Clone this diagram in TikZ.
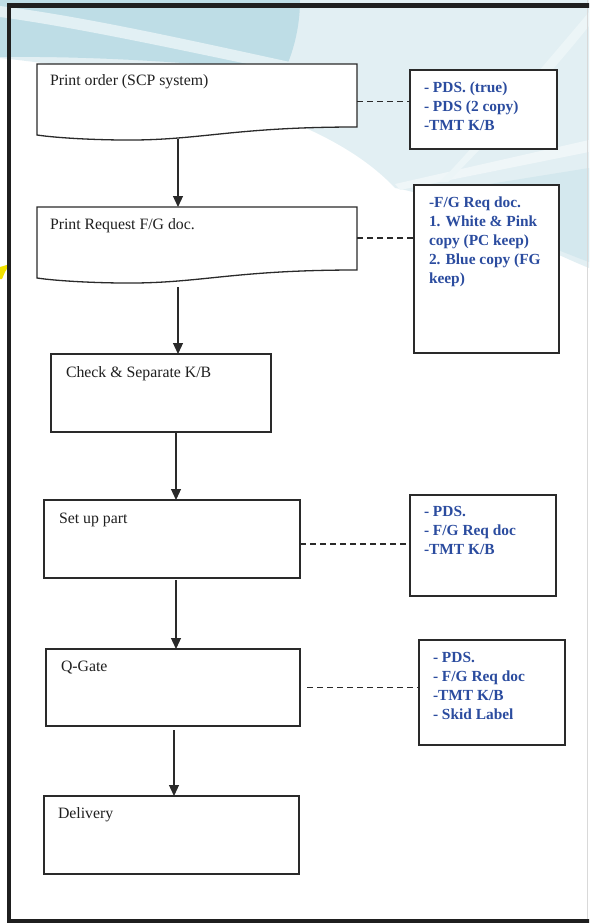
\documentclass[tikz,border=0pt]{standalone}
\usepackage{fontspec}
\setmainfont{Liberation Serif}
\usetikzlibrary{arrows.meta,calc}
\definecolor{tealtop}{HTML}{BEDDE6}
\definecolor{palewash}{HTML}{E2EFF3}
\definecolor{paleband}{HTML}{D4E8EE}
\definecolor{noteblue}{HTML}{2B4C9F}
\definecolor{linegray}{HTML}{2A2A2A}
\definecolor{marker}{HTML}{F2E200}

\begin{document}
\begin{tikzpicture}[x=1pt,y=-1pt,
  every node/.style={inner sep=0pt,outer sep=0pt},
  shapeline/.style={draw=linegray,line width=1.3pt},
  stepbox/.style={shapeline,rectangle,fill=white,anchor=north west},
  docbox/.style={rectangle,anchor=north west},
  steplabel/.style={anchor=base west,font=\fontsize{15.8}{19}\selectfont,text=black!88},
  notebox/.style={shapeline,rectangle,fill=white,anchor=north west},
  notetext/.style={anchor=north west,align=left,font=\fontsize{15.4}{19}\selectfont\bfseries,text=noteblue},
  flow/.style={line width=1.2pt,draw=linegray,-{Triangle[width=10pt,length=11pt]}},
  link/.style={line width=1.1pt,draw=linegray,dash pattern=on 6pt off 4pt}]

\useasboundingbox (0,0) rectangle (589,923);
\clip (0,0) rectangle (589,923);

% pale backdrop sweeping across the top
\fill[palewash] (0,0) -- (589,0) -- (589,268)
  .. controls (520,240) and (460,200) .. (395,188)
  .. controls (350,140) and (250,85) .. (0,58) -- cycle;
\fill[paleband] (415,196) -- (589,168) -- (589,262)
  .. controls (530,240) and (470,212) .. (415,196) -- cycle;
\fill[white!45!palewash] (395,184) -- (589,140) -- (589,152) -- (400,190) -- cycle;
\fill[white!35!palewash] (589,12) .. controls (540,70) and (480,140) .. (440,182)
  -- (448,182) .. controls (490,140) and (550,75) .. (589,26) -- cycle;
% teal corner with its light stripe
\fill[tealtop] (0,0) -- (300,0) .. controls (300,30) and (292,55) .. (284,72)
  .. controls (190,62) and (90,56) .. (0,57) -- cycle;
\fill[white!55!tealtop] (0,6) .. controls (80,16) and (180,38) .. (290,62)
  -- (286,72) .. controls (180,50) and (80,28) .. (0,17) -- cycle;
\draw[gray!30,line width=0.8pt] (587,0) -- (587,923);

% yellow marker at the left edge
\fill[marker] (0,267) -- (10,264) -- (5,272) -- (2,279) -- (0,279) -- cycle;

% outer frame
\draw[line width=4.2pt,black!88] (9,5.5) rectangle (640,921);

% document-shaped steps
\node[docbox,minimum width=320pt,minimum height=75pt] (ord) at (37,64) {};
\node[docbox,minimum width=320pt,minimum height=76pt] (req) at (37,207) {};
\foreach \d in {ord,req} {
  \draw[shapeline,fill=white] (\d.north west) -- (\d.north east)
    -- ($(\d.north east)+(0,63)$)
    .. controls ($(\d.north west)+(193,63)$) and ($(\d.north west)+(163,77)$) .. ($(\d.north west)+(83,76)$)
    .. controls ($(\d.north west)+(43,75.5)$) and ($(\d.north west)+(13,73)$) .. ($(\d.north west)+(0,71)$)
    -- cycle;
}

% rectangular steps
\node[stepbox,minimum width=220pt,minimum height=78pt] (chk) at (51,354) {};
\node[stepbox,minimum width=256pt,minimum height=78pt] (set) at (44,500) {};
\node[stepbox,minimum width=254pt,minimum height=77pt] (qg)  at (46,649) {};
\node[stepbox,minimum width=255pt,minimum height=78pt] (dlv) at (44,796) {};

% step captions
\node[steplabel] (ordt) at ($(ord.north west)+(13,22)$) {Print order (SCP system)};
\node[steplabel] (reqt) at ($(req.north west)+(13,22)$) {Print Request F/G doc.};
\node[steplabel] (chkt) at ($(chk.north west)+(15,23)$) {Check \& Separate K/B};
\node[steplabel] (sett) at ($(set.north west)+(15,23)$) {Set up part};
\node[steplabel] (qgt)  at ($(qg.north west)+(15,22)$) {Q-Gate};
\node[steplabel] (dlvt) at ($(dlv.north west)+(14,22)$) {Delivery};

% note boxes
\node[notebox,minimum width=147pt,minimum height=79pt]  (na) at (410,70) {};
\node[notebox,minimum width=145pt,minimum height=168pt] (nb) at (414,185) {};
\node[notebox,minimum width=146pt,minimum height=101pt] (nc) at (410,495) {};
\node[notebox,minimum width=146pt,minimum height=105pt] (nd) at (419,640) {};

\node[notetext] (nat) at ($(na.north west)+(14,12)$) {- PDS. (true)\\- PDS (2 copy)\\-TMT K/B};
\node[notetext] (nbt) at ($(nb.north west)+(15,12)$) {-F/G Req doc.\\1. White \& Pink\\copy (PC keep)\\2. Blue copy (FG\\keep)};
\node[notetext] (nct) at ($(nc.north west)+(14,11)$) {- PDS.\\- F/G Req doc\\-TMT K/B};
\node[notetext] (ndt) at ($(nd.north west)+(14,12)$) {- PDS.\\- F/G Req doc\\-TMT K/B\\- Skid Label};

% flow arrows
\draw[flow] ($(ord.south west)+(141,0)$) -- ($(req.north west)+(141,0)$);
\draw[flow] ($(req.south west)+(141,4)$) -- ($(chk.north west)+(127,0)$);
\draw[flow] ($(chk.south west)+(125,0)$) -- ($(set.north west)+(132,0)$);
\draw[flow] ($(set.south west)+(132,2)$) -- ($(qg.north west)+(130,0)$);
\draw[flow] ($(qg.south west)+(128,4)$) -- ($(dlv.north west)+(130,0)$);

% dashed links to the notes
\draw[link] (ord.east) -- (ord.east -| na.west);
\draw[link] ($(req.north east)+(0,31)$) -- ($(nb.north west)+(0,53)$);
\draw[link] ($(set.east)+(0,5)$) -- ($(nc.north west)+(0,49)$);
\draw[link] ($(qg.east)+(7,0)$) -- ($(nd.north west)+(0,47.5)$);
\end{tikzpicture}
\end{document}
